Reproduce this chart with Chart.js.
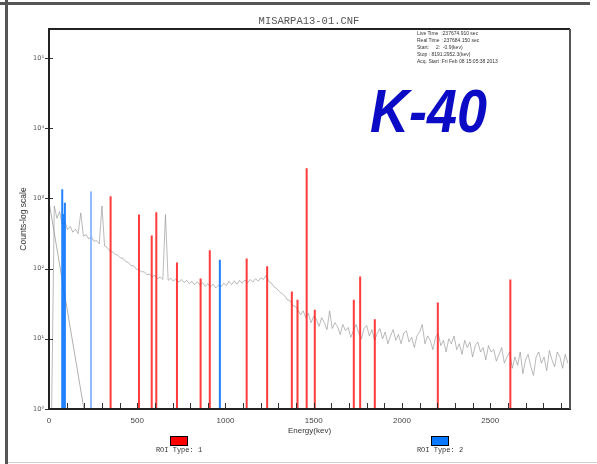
<!DOCTYPE html>
<html>
<head>
<meta charset="utf-8">
<script src="https://cdn.jsdelivr.net/npm/chart.js@4.4.1/dist/chart.umd.min.js"></script>
<style>
  html, body { margin: 0; padding: 0; background: #fff; }
  #wrap { position: relative; width: 597px; height: 464px; overflow: hidden; background: #fff; }
  #c { position: absolute; left: 0; top: 0; }
  .frameL { position: absolute; left: 5px; top: 0; width: 3px; height: 464px; background: #555; }
  .frameT { position: absolute; left: 0; top: 2px; width: 590px; height: 3px; background: #555; }
  .frameB { position: absolute; left: 8px; top: 462px; width: 589px; height: 1px; background: #d0d0d0; }
  #title { position: absolute; left: 209px; width: 200px; top: 14px; text-align: center;
           font: 10.5px "Liberation Mono", monospace; color: #555; line-height: 14px; }
  #info { position: absolute; left: 417px; top: 29.5px; transform: scale(0.5); transform-origin: 0 0;
          font: 10px "Liberation Sans", sans-serif; color: #333; line-height: 14px; white-space: pre; }
  #k40 { position: absolute; left: 370px; top: 80px; font: italic bold 62px "Liberation Sans", Arial, sans-serif;
         color: #0b0bc6; line-height: 62px; transform: scaleX(0.87); transform-origin: 0 0; white-space: nowrap; }
  .lbox { position: absolute; width: 16px; height: 8px; border: 1px solid #000; top: 436px; }
  .ltext { position: absolute; width: 80px; text-align: center; top: 445px; font: 7px "Liberation Mono", monospace;
           color: #333; line-height: 10px; white-space: pre; }
</style>
</head>
<body>
<div id="wrap">
  <canvas id="c" width="597" height="464"></canvas>
  <div class="frameL"></div>
  <div class="frameT"></div>
  <div class="frameB"></div>
  <div id="title">MISARPA13-01.CNF</div>
  <div id="info">Live Time  :237674.910 sec
Real Time  :237684.150 sec
Start:     2:  -0.9(kev)
Stop : 8191:2952.3(kev)
Acq. Start :Fri Feb 08 15:05:38 2013</div>
  <div id="k40">K-40</div>
  <div class="lbox" style="left:170px;background:#ff0000;"></div>
  <div class="ltext" style="left:139px;">ROI Type: 1</div>
  <div class="lbox" style="left:431px;background:#0a78ff;"></div>
  <div class="ltext" style="left:400px;">ROI Type: 2</div>
</div>
<script>
// ---------------- data ----------------
const chartTitle = "MISARPA13-01.CNF";
const xTickLabels = [0, 500, 1000, 1500, 2000, 2500];
const yTickValues = [1, 10, 100, 1000, 10000, 100000];
const yTickLabels = ["10\u2070", "10\u00b9", "10\u00b2", "10\u00b3", "10\u2074", "10\u2075"];

// gray spectrum: counts every 15 keV starting at 0 keV
const spectrumStartKeV = 0;
const spectrumStepKeV = 15;
const spectrumCounts = [
  // 0 - 135 keV
  1, 1, 780, 520, 650, 420, 470, 360, 400, 330,
  // 150 - 285
  365, 315, 620, 290, 305, 265, 285, 245, 250, 225,
  // 300 - 435
  780, 210, 200, 178, 172, 160, 155, 142, 140, 126,
  // 450 - 585
  122, 110, 110, 98, 96, 90, 90, 82, 84, 76,
  // 600 - 735
  80, 72, 76, 70, 590, 68, 73, 66, 72, 64,
  // 750 - 885
  70, 63, 68, 61, 66, 59, 65, 58, 63, 56,
  // 900 - 1035
  61, 55, 60, 53, 58, 55, 62, 57, 66, 59,
  // 1050 - 1185
  67, 60, 68, 62, 69, 63, 70, 64, 72, 66,
  // 1200 - 1245
  74, 70, 80, 66,
  // 1260 - 1395
  62, 55, 52, 47, 44, 41, 36, 35, 30, 29,
  // 1410 - 1545
  26, 22, 25, 20, 23, 17, 21, 19, 15, 20,
  // 1560 - 1695
  17, 13.5, 25, 14, 17, 15, 11.5, 16, 13, 14.5,
  // 1710 - 1845
  10.5, 13, 16, 12, 10, 14, 15.5, 11, 13.5, 9.5,
  // 1860 - 1995
  12, 14, 10, 12.5, 8.5, 11, 13.5, 9.5, 11.5, 8.5,
  // 2010 - 2145
  12, 13, 9, 10.5, 7.5, 11, 12.5, 16, 8.5, 11,
  // 2160 - 2295
  9.5, 7, 10.5, 12, 8, 9.5, 6.5, 10, 8.5, 11,
  // 2310 - 2445
  7, 8.5, 6, 9.5, 7.5, 9, 5.5, 8, 9, 6.5,
  // 2460 - 2595
  7.5, 5, 8, 6.5, 7, 4.8, 6, 7.5, 4.5, 5.5,
  // 2610 - 2745
  6.5, 3.8, 5.5, 4.2, 6.5, 3.2, 5, 6, 4, 3,
  // 2760 - 2895
  5.5, 6.5, 4.5, 5.5, 3.5, 6.8, 5, 4, 6.5, 5.5,
  // 2910 - 2940
  3.8, 6, 4.5
];

// steep gray trace at low energy
const lowTraceKeV = [0, 198];
const lowTraceCounts = [900, 1];

// ROI Type 1 (red) peaks
const roi1KeV    = [349, 510, 582, 608, 725, 859, 911, 1120, 1236, 1376, 1408, 1460, 1506, 1727, 1763, 1846, 2203, 2614];
const roi1Counts = [1070, 590, 297, 635, 122, 72, 182, 139, 108, 47, 36, 2700, 26, 36, 77, 19, 33, 70];

// ROI Type 2 (blue) peaks
const roi2KeV    = [75, 82, 90, 968];
const roi2Counts = [1350, 600, 870, 134];
const roi2LightKeV    = [238];
const roi2LightCounts = [1260];

// ---------------- build datasets ----------------
function roiLines(es, cs) {
  const out = [];
  es.forEach((e, i) => {
    out.push({x: e, y: 1});
    out.push({x: e, y: cs[i]});
    out.push({x: e, y: null});
  });
  return out;
}
const spectrumData = spectrumCounts.map((c, i) => ({x: spectrumStartKeV + i * spectrumStepKeV, y: c}));
const lowTraceData = lowTraceKeV.map((e, i) => ({x: e, y: lowTraceCounts[i]}));

const frameAndTicks = {
  id: 'frameAndTicks',
  afterDraw(chart) {
    const {ctx, chartArea: a, scales: {x, y}} = chart;
    ctx.save();
    ctx.lineWidth = 1;
    ctx.strokeStyle = '#333';
    yTickValues.forEach(v => {
      const py = Math.round(y.getPixelForValue(v)) + 0.5;
      ctx.beginPath(); ctx.moveTo(a.left - 4, py); ctx.lineTo(a.left + 4, py); ctx.stroke();
    });
    for (let v = 0; v <= x.max; v += 100) {
      const px = Math.round(x.getPixelForValue(v)) + 0.5;
      ctx.beginPath(); ctx.moveTo(px, a.bottom); ctx.lineTo(px, a.bottom - 6); ctx.stroke();
    }
    ctx.lineWidth = 2;
    ctx.strokeStyle = '#222';
    ctx.beginPath();
    ctx.moveTo(a.left, a.bottom); ctx.lineTo(a.left, a.top); ctx.lineTo(a.right, a.top);
    ctx.stroke();
    ctx.beginPath(); ctx.moveTo(a.left - 1, a.bottom); ctx.lineTo(a.right + 1, a.bottom); ctx.stroke();
    ctx.strokeStyle = '#555';
    ctx.beginPath(); ctx.moveTo(a.right, a.top); ctx.lineTo(a.right, a.bottom); ctx.stroke();
    ctx.restore();
  }
};

new Chart(document.getElementById('c'), {
  type: 'line',
  data: {
    datasets: [
      { label: 'ROI Type: 1', data: roiLines(roi1KeV, roi1Counts), borderColor: 'rgba(255,25,25,0.85)',
        borderWidth: 2, pointRadius: 0, spanGaps: false, order: 1 },
      { label: 'ROI Type: 2', data: roiLines(roi2KeV, roi2Counts), borderColor: 'rgba(10,115,255,0.9)',
        borderWidth: 2, pointRadius: 0, spanGaps: false, order: 1 },
      { label: 'ROI Type: 2 (light)', data: roiLines(roi2LightKeV, roi2LightCounts), borderColor: 'rgba(110,165,255,0.75)',
        borderWidth: 2, pointRadius: 0, spanGaps: false, order: 1 },
      { label: 'Spectrum', data: spectrumData, borderColor: 'rgba(140,140,140,0.6)', borderWidth: 1,
        pointRadius: 0, tension: 0, order: 2 },
      { label: 'Low trace', data: lowTraceData, borderColor: 'rgba(150,150,150,0.75)', borderWidth: 1,
        pointRadius: 0, order: 2 }
    ]
  },
  options: {
    responsive: false,
    animation: false,
    devicePixelRatio: 1,
    layout: { padding: { top: 29, right: 27, left: 0, bottom: 0 } },
    plugins: { legend: { display: false }, tooltip: { enabled: false }, title: { display: false } },
    scales: {
      x: {
        type: 'linear', min: 0, max: 2952,
        grid: { display: true, drawOnChartArea: false, drawTicks: false },
        border: { display: false },
        afterBuildTicks: s => { s.ticks = xTickLabels.map(v => ({value: v})); },
        afterFit: s => { s.height = 55; },
        ticks: { padding: 7, color: '#444', font: { family: 'Liberation Sans', size: 8 }, maxRotation: 0,
                 callback: v => String(v) },
        title: { display: true, text: 'Energy(kev)', color: '#333', font: { family: 'Liberation Sans', size: 8 },
                 padding: { top: 0, bottom: 28 } }
      },
      y: {
        type: 'logarithmic', min: 1, max: 259000,
        grid: { display: true, drawOnChartArea: false, drawTicks: false },
        border: { display: false },
        afterBuildTicks: s => { s.ticks = yTickValues.map(v => ({value: v})); },
        afterFit: s => { s.width = 49; },
        ticks: { padding: 5, color: '#555', font: { family: 'DejaVu Sans', size: 6.5 },
                 callback: v => { const i = yTickValues.indexOf(v); return i >= 0 ? yTickLabels[i] : ''; } },
        title: { display: true, text: 'Counts-log scale', color: '#333', font: { family: 'Liberation Sans', size: 8.5 },
                 padding: { top: 18.5, bottom: 0 } }
      }
    }
  },
  plugins: [frameAndTicks]
});
</script>
</body>
</html>
